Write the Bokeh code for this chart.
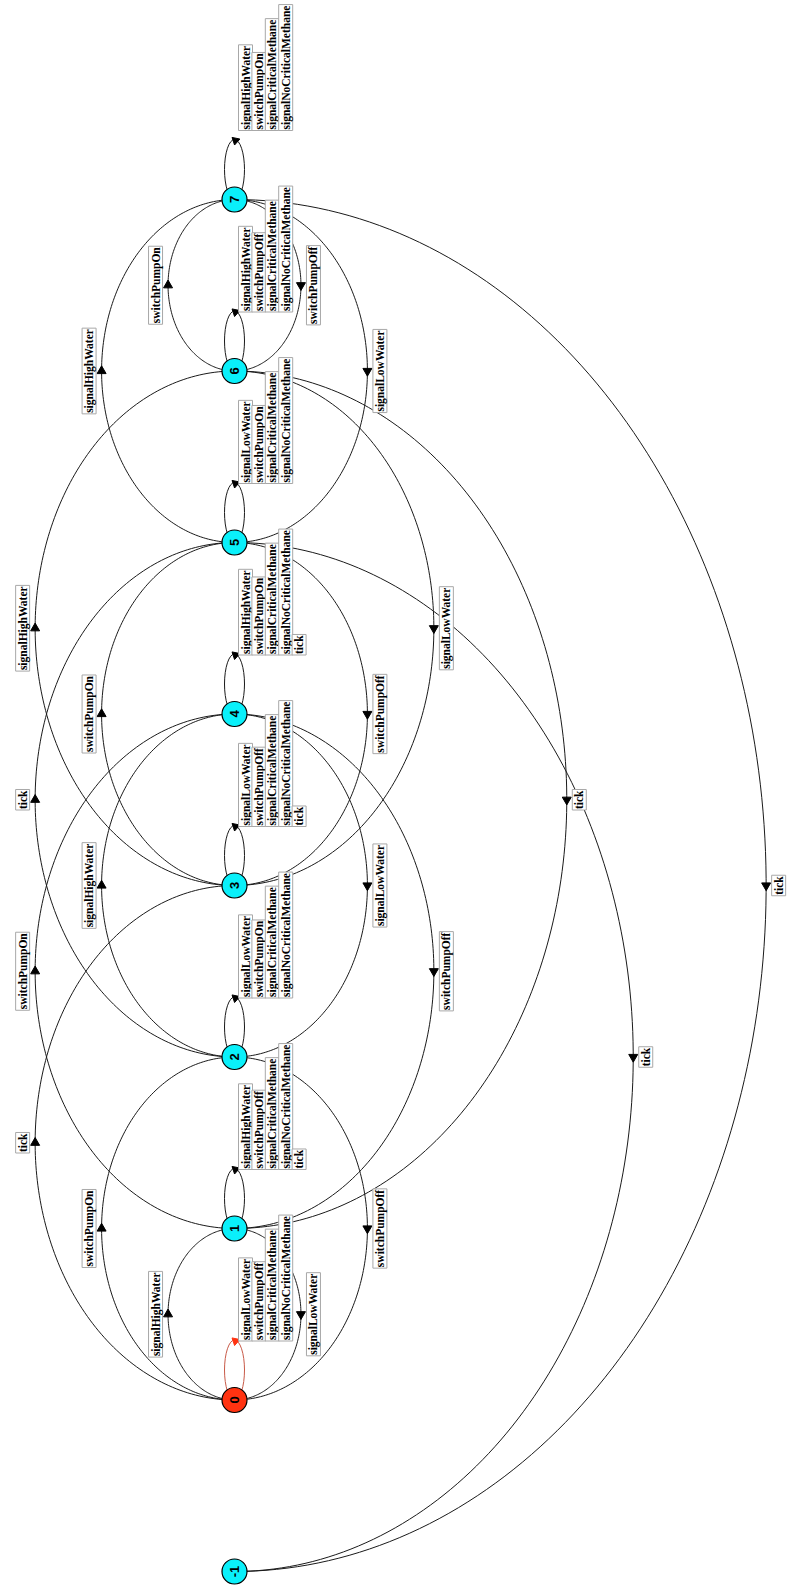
import numpy as np
from bokeh.plotting import figure
from bokeh.models import Range1d, Label, ColumnDataSource
from bokeh.core.properties import value
from bokeh.embed import file_html
from bokeh.resources import INLINE

# ---------------- data ----------------
states = ["7", "6", "5", "4", "3", "2", "1", "0", "-1"]
initial_state = "0"

edge_src = ["0", "0", "0", "1", "2", "2", "3", "3", "5", "6",
            "1", "2", "4", "4", "5", "6", "7", "7", "6", "5", "7"]
edge_dst = ["1", "2", "3", "4", "4", "5", "5", "6", "7", "7",
            "0", "0", "1", "2", "3", "3", "5", "6", "1", "-1", "-1"]
edge_lbl = ["signalHighWater", "switchPumpOn", "tick", "switchPumpOn", "signalHighWater",
            "tick", "switchPumpOn", "signalHighWater", "signalHighWater", "switchPumpOn",
            "signalLowWater", "switchPumpOff", "switchPumpOff", "signalLowWater", "switchPumpOff",
            "signalLowWater", "signalLowWater", "switchPumpOff", "tick", "tick", "tick"]

loop_states = ["0", "1", "2", "3", "4", "5", "6", "7"]
loop_labels = [
    ["signalLowWater", "switchPumpOff", "signalCriticalMethane", "signalNoCriticalMethane"],
    ["signalHighWater", "switchPumpOff", "signalCriticalMethane", "signalNoCriticalMethane", "tick"],
    ["signalLowWater", "switchPumpOn", "signalCriticalMethane", "signalNoCriticalMethane"],
    ["signalLowWater", "switchPumpOff", "signalCriticalMethane", "signalNoCriticalMethane", "tick"],
    ["signalHighWater", "switchPumpOn", "signalCriticalMethane", "signalNoCriticalMethane", "tick"],
    ["signalLowWater", "switchPumpOn", "signalCriticalMethane", "signalNoCriticalMethane"],
    ["signalHighWater", "switchPumpOff", "signalCriticalMethane", "signalNoCriticalMethane"],
    ["signalHighWater", "switchPumpOn", "signalCriticalMethane", "signalNoCriticalMethane"],
]

# ---------------- layout ----------------
NX = 234.0
Y0 = 199.0
STEP = 171.5
pos = {s: Y0 + STEP * i for i, s in enumerate(states)}
RATIO = 0.775

CYAN = "#0af0fa"
RED = "#ff3311"
EDGE = "#1a1a1a"
BOX = "#a8a8a8"
SERIF = "Liberation Serif"
FS = "11.5px"

W, H = 787, 1596
p = figure(width=W, height=H, x_range=Range1d(0, W), y_range=Range1d(H, 0),
           output_backend="svg", toolbar_location=None, min_border=0,
           x_axis_location=None, y_axis_location=None)
p.grid.visible = False
p.outline_line_color = None
p.background_fill_color = "white"

# edges as half ellipses
xs, ys = [], []
ax, ay, aang = [], [], []
for s, d, lbl in zip(edge_src, edge_dst, edge_lbl):
    y_s, y_d = pos[s], pos[d]
    mid = (y_s + y_d) / 2
    b = abs(y_d - y_s) / 2
    a = RATIO * b
    side = -1 if y_d < y_s else 1
    t = np.linspace(0, np.pi, 160)
    xs.append(list(NX + side * a * np.sin(t)))
    ys.append(list(mid - b * np.cos(t)))
    ax.append(NX + side * a)
    ay.append(mid)
    aang.append(0.0 if side < 0 else np.pi)
    p.add_layout(Label(x=NX + side * (a + 12.5), y=mid, text=lbl, angle=np.pi / 2,
                       text_font=SERIF, text_font_size=FS, text_font_style="bold",
                       text_color="black",
                       text_align="center", text_baseline="middle",
                       background_fill_color="white", border_line_color=BOX,
                       border_line_width=1, padding=1))

p.multi_line(xs, ys, line_color=EDGE, line_width=1)
p.scatter(ax, ay, marker="triangle", size=9, angle=aang, fill_color="black",
          line_color="black")

# self loops
lx = [NX for _ in loop_states]
ly = [pos[s] - 30 for s in loop_states]
lcol = [("#c85a48" if s == initial_state else EDGE) for s in loop_states]
acol = [(RED if s == initial_state else "black") for s in loop_states]
p.ellipse(lx, ly, width=20, height=60, fill_color=None, line_color=lcol, line_width=1)
p.scatter([NX + 1 for _ in loop_states], [pos[s] - 59 for s in loop_states],
          marker="triangle", size=8, angle=-1.25, fill_color=acol, line_color=acol)

for s, lines in zip(loop_states, loop_labels):
    off = 69 if s == "7" else 59
    for k, txt in enumerate(lines):
        p.add_layout(Label(x=NX + 11 + 13.4 * k, y=pos[s] - off, text=txt, angle=np.pi / 2,
                           text_font=SERIF, text_font_size=FS, text_font_style="bold",
                           text_color="black",
                           text_align="left", text_baseline="middle",
                           background_fill_color="white", border_line_color=BOX,
                           border_line_width=1, padding=1))

# nodes
src = ColumnDataSource(dict(
    x=[NX for _ in states],
    y=[pos[s] for s in states],
    name=states,
    color=[(RED if s == initial_state else CYAN) for s in states],
))
p.scatter("x", "y", source=src, marker="circle", size=25, fill_color="color",
          line_color="black", line_width=1.2)
p.text("x", "y", text="name", source=src, angle=np.pi / 2, text_align="center",
       text_baseline="middle", text_font=value("Liberation Sans"),
       text_font_style="bold", text_font_size="13px", text_color="black")

open("out.html", "w").write(file_html(p, INLINE))
